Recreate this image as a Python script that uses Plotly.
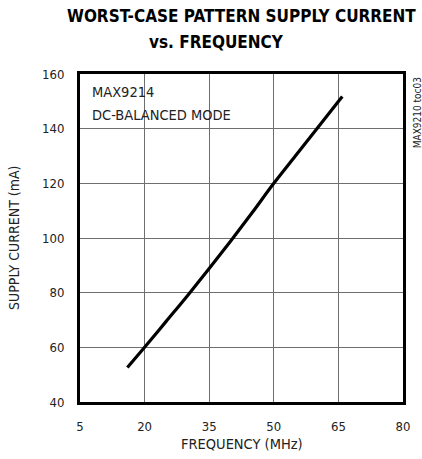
import plotly.graph_objects as go

# Data
freq_mhz = [16.0, 20.0, 25.0, 30.0, 35.0, 40.0, 45.0, 50.0, 55.0, 60.0, 65.9]
supply_ma = [52.6, 60.0, 69.5, 79.0, 88.8, 98.9, 109.3, 120.0, 130.0, 140.0, 151.8]

x_ticks = [5, 20, 35, 50, 65, 80]
y_ticks = [40, 60, 80, 100, 120, 140, 160]

FONT = "DejaVu Sans Condensed, Liberation Sans Narrow, Roboto, sans-serif"

fig = go.Figure()
fig.add_trace(go.Scatter(x=freq_mhz, y=supply_ma, mode="lines",
                         line=dict(color="black", width=3.2, shape="spline", smoothing=1.0),
                         showlegend=False, hoverinfo="skip"))

def py(p):
    return (402 - p) / 328

def px(p):
    return (p - 80) / 328

fig.add_shape(type="rect", xref="paper", yref="paper",
              x0=px(81), x1=px(241), y0=py(126), y1=py(80),
              fillcolor="white", line=dict(width=0), layer="between")

fig.update_layout(
    width=422, height=459,
    margin=dict(l=80, r=14, t=74, b=57),
    paper_bgcolor="white", plot_bgcolor="white",
    font=dict(family=FONT, size=14, color="#222"),
    xaxis=dict(range=[5, 80], tickvals=x_ticks, ticktext=[str(v) for v in x_ticks],
               showgrid=True, gridcolor="#6e6e6e", gridwidth=1.2,
               showline=True, linecolor="black", linewidth=3, mirror=True,
               ticks="", zeroline=False, ticklabelstandoff=10,
               tickfont=dict(family=FONT, size=13, color="#222")),
    yaxis=dict(range=[40, 160], tickvals=y_ticks, ticktext=[str(v) for v in y_ticks],
               showgrid=True, gridcolor="#6e6e6e", gridwidth=1.2,
               showline=True, linecolor="black", linewidth=3, mirror=True,
               ticks="", zeroline=False, ticklabelstandoff=10,
               tickfont=dict(family=FONT, size=13, color="#222")),
    annotations=[
        dict(text="<b>WORST-CASE PATTERN SUPPLY CURRENT</b>", xref="paper", yref="paper",
             x=px(244), y=py(16), xanchor="center", yanchor="middle", showarrow=False,
             font=dict(family=FONT, size=17, color="black")),
        dict(text="<b>vs. FREQUENCY</b>", xref="paper", yref="paper",
             x=px(219), y=py(42), xanchor="center", yanchor="middle", showarrow=False,
             font=dict(family=FONT, size=17, color="black")),
        dict(text="MAX9214", xref="paper", yref="paper",
             x=px(90), y=py(91.5), xanchor="left", yanchor="middle", showarrow=False,
             font=dict(family=FONT, size=14.5, color="#222")),
        dict(text="DC-BALANCED MODE", xref="paper", yref="paper",
             x=px(90), y=py(115), xanchor="left", yanchor="middle", showarrow=False,
             font=dict(family=FONT, size=14.5, color="#222")),
        dict(text="SUPPLY CURRENT (mA)", xref="paper", yref="paper",
             x=px(13), y=0.5, xanchor="center", yanchor="middle", showarrow=False,
             textangle=-90, font=dict(family=FONT, size=14, color="#222")),
        dict(text="FREQUENCY (MHz)", xref="paper", yref="paper",
             x=0.5, y=py(444), xanchor="center", yanchor="middle", showarrow=False,
             font=dict(family=FONT, size=14.5, color="#222")),
        dict(text="MAX9210 toc03", xref="paper", yref="paper",
             x=px(423), y=py(75), xanchor="center", yanchor="top", showarrow=False,
             textangle=-90, font=dict(family=FONT, size=10, color="#222")),
    ],
)

fig.write_html("out.html", config={"displayModeBar": False},
               post_script="document.body.style.margin='0';")
